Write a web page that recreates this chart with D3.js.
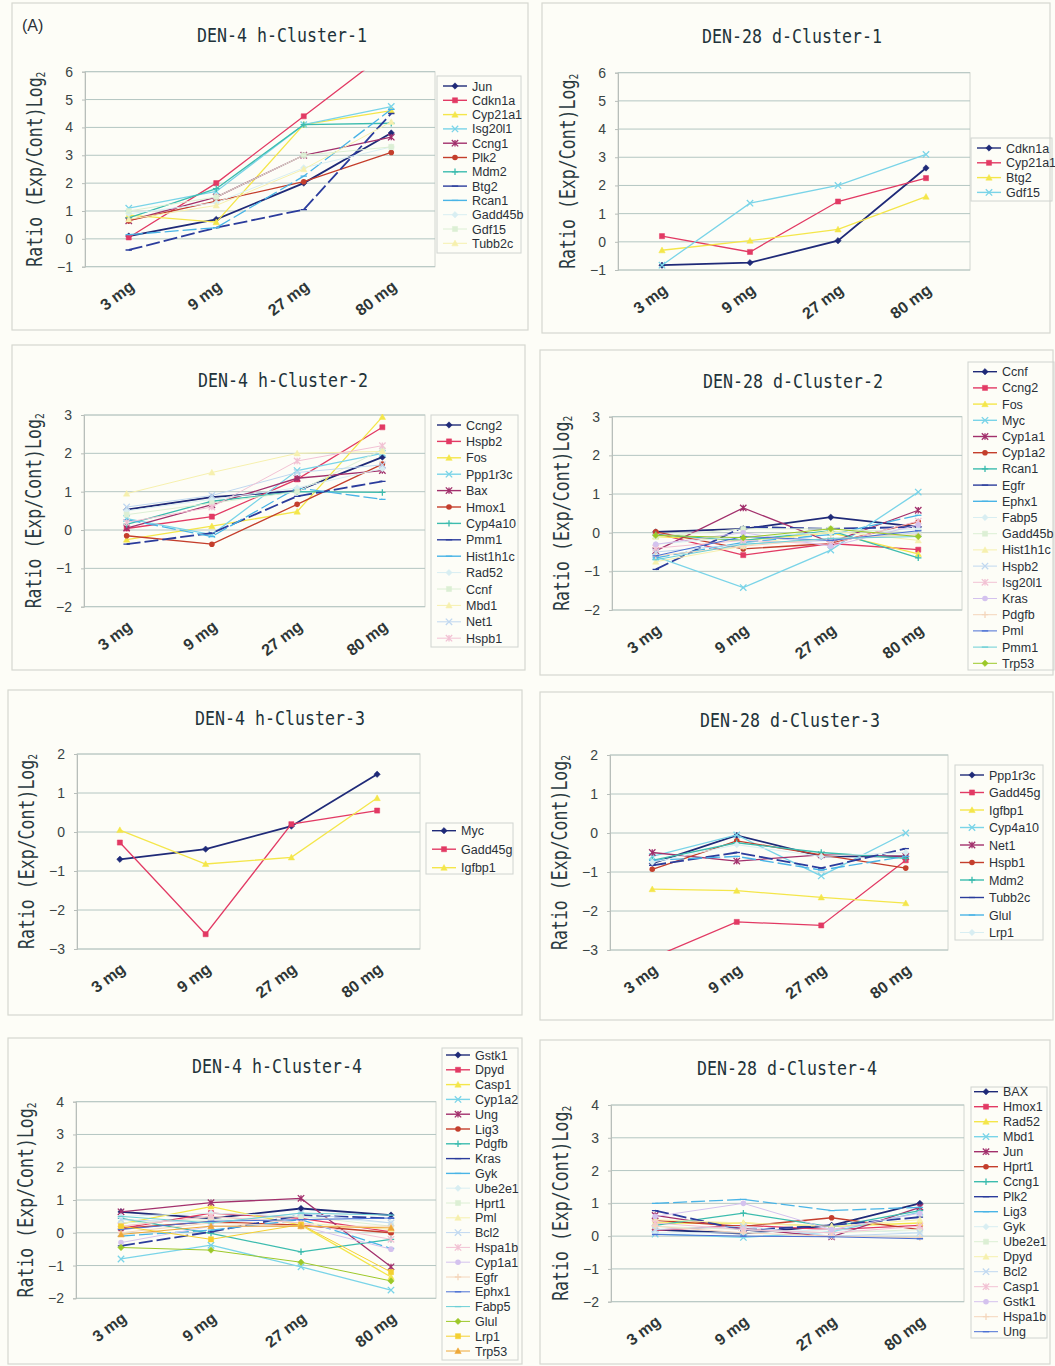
<!DOCTYPE html>
<html lang="en">
<head>
<meta charset="UTF-8">
<title>DEN dose clusters</title>
<script src="https://d3js.org/d3.v7.min.js"></script>
<style>
  body { margin: 0; background: #fdfdf7; }
  svg { display: block; }
  .title { font-family: "DejaVu Sans Mono", monospace; fill: #22333a; }
  .ylab { font-family: "DejaVu Sans Mono", monospace; fill: #2a3a40; }
  .tick text { font-family: "Liberation Sans", Arial, sans-serif; }
  .legend text { font-family: "Liberation Sans", Arial, sans-serif; font-size: 12.5px; fill: #2a3038; }
</style>
</head>
<body>
<svg id="chart" width="1055" height="1366"></svg>
<script>
const doses = ["3 mg", "9 mg", "27 mg", "80 mg"];

// DEN-4 h-Cluster-1
const h1Ticks = [-1, 0, 1, 2, 3, 4, 5, 6];
const h1Genes = ["Jun", "Cdkn1a", "Cyp21a1", "Isg20l1", "Ccng1", "Plk2", "Mdm2", "Btg2", "Rcan1", "Gadd45b", "Gdf15", "Tubb2c"];
const h1Values = [
  [0.1, 0.7, 2.0, 3.8],
  [0.05, 2.0, 4.4, 6.8],
  [0.85, 0.6, 4.1, 4.6],
  [1.1, 1.7, 4.1, 4.75],
  [0.65, 1.5, 3.0, 3.65],
  [0.65, 1.35, 2.05, 3.1],
  [0.75, 1.8, 4.1, 4.15],
  [-0.4, 0.4, 1.05, 4.5],
  [0.15, 0.4, 2.25, 4.65],
  [0.9, 1.3, 2.55, 3.3],
  [1.0, 1.5, 3.0, 3.3],
  [0.7, 1.2, 2.5, 4.2]
];

// DEN-28 d-Cluster-1
const d1Ticks = [-1, 0, 1, 2, 3, 4, 5, 6];
const d1Genes = ["Cdkn1a", "Cyp21a1", "Btg2", "Gdf15"];
const d1Values = [
  [-0.83, -0.74, 0.04, 2.62],
  [0.2, -0.36, 1.43, 2.26],
  [-0.3, 0.04, 0.44, 1.6],
  [-0.83, 1.37, 2.0, 3.1]
];

// DEN-4 h-Cluster-2
const h2Ticks = [-2, -1, 0, 1, 2, 3];
const h2Genes = ["Ccng2", "Hspb2", "Fos", "Ppp1r3c", "Bax", "Hmox1", "Cyp4a10", "Pmm1", "Hist1h1c", "Rad52", "Ccnf", "Mbd1", "Net1", "Hspb1"];
const h2Values = [
  [0.53, 0.86, 1.02, 1.9],
  [0.04, 0.35, 1.32, 2.68],
  [-0.25, 0.1, 0.48, 2.95],
  [0.3, -0.12, 1.55, 2.0],
  [0.05, 0.66, 1.35, 1.55],
  [-0.15, -0.37, 0.67, 1.72],
  [0.15, 0.75, 1.0, 0.98],
  [-0.37, -0.08, 0.88, 1.27],
  [0.27, -0.17, 1.1, 0.8],
  [0.5, 0.8, 1.1, 1.6],
  [0.4, 0.7, 1.0, 2.1],
  [0.95, 1.5, 2.0, 2.05],
  [0.6, 0.9, 1.5, 1.7],
  [0.2, 0.6, 1.8, 2.2]
];

// DEN-28 d-Cluster-2
const d2Ticks = [-2, -1, 0, 1, 2, 3];
const d2Genes = ["Ccnf", "Ccng2", "Fos", "Myc", "Cyp1a1", "Cyp1a2", "Rcan1", "Egfr", "Ephx1", "Fabp5", "Gadd45b", "Hist1h1c", "Hspb2", "Isg20l1", "Kras", "Pdgfb", "Pml", "Pmm1", "Trp53"];
const d2Values = [
  [0.02, 0.1, 0.4, 0.15],
  [-0.02, -0.58, -0.28, -0.44],
  [-0.1, -0.2, 0.0, -0.55],
  [-0.62, -1.42, -0.45, 1.05],
  [-0.47, 0.64, -0.25, 0.58],
  [0.02, -0.42, -0.28, 0.28],
  [-0.05, -0.2, 0.05, -0.65],
  [-0.95, 0.15, 0.1, 0.15],
  [-0.65, -0.25, -0.05, 0.45],
  [-0.3, -0.1, 0.0, 0.1],
  [-0.1, 0.1, 0.1, 0.0],
  [-0.75, -0.35, 0.05, -0.2],
  [-0.5, -0.3, -0.2, 0.0],
  [-0.4, -0.2, -0.3, 0.3],
  [-0.3, 0.0, -0.35, 0.2],
  [-0.6, -0.35, -0.15, -0.05],
  [-0.6, -0.1, -0.2, 0.05],
  [-0.7, -0.3, -0.15, -0.1],
  [-0.07, -0.13, 0.1, -0.1]
];

// DEN-4 h-Cluster-3
const h3Ticks = [-3, -2, -1, 0, 1, 2];
const h3Genes = ["Myc", "Gadd45g", "Igfbp1"];
const h3Values = [
  [-0.7, -0.44, 0.15, 1.48],
  [-0.27, -2.62, 0.2, 0.55],
  [0.05, -0.82, -0.65, 0.87]
];

// DEN-28 d-Cluster-3
const d3Ticks = [-3, -2, -1, 0, 1, 2];
const d3Genes = ["Ppp1r3c", "Gadd45g", "Igfbp1", "Cyp4a10", "Net1", "Hspb1", "Mdm2", "Tubb2c", "Glul", "Lrp1"];
const d3Values = [
  [-0.78, -0.06, -0.6, -0.6],
  [-3.2, -2.28, -2.37, -0.7],
  [-1.44, -1.48, -1.65, -1.8],
  [-0.6, -0.05, -1.1, 0.0],
  [-0.5, -0.72, -0.56, -0.6],
  [-0.93, -0.2, -0.56, -0.9],
  [-0.7, -0.25, -0.5, -0.65],
  [-0.83, -0.5, -0.9, -0.4],
  [-0.7, -0.6, -0.95, -0.6],
  [-0.75, -0.3, -0.6, -0.5]
];

// DEN-4 h-Cluster-4
const h4Ticks = [-2, -1, 0, 1, 2, 3, 4];
const h4Genes = ["Gstk1", "Dpyd", "Casp1", "Cyp1a2", "Ung", "Lig3", "Pdgfb", "Kras", "Gyk", "Ube2e1", "Hprt1", "Pml", "Bcl2", "Hspa1b", "Cyp1a1", "Egfr", "Ephx1", "Fabp5", "Glul", "Lrp1", "Trp53"];
const h4Values = [
  [0.64, 0.44, 0.74, 0.54],
  [0.13, 0.6, 0.44, 0.03],
  [0.27, 0.8, 0.23, -1.35],
  [-0.8, -0.38, -1.04, -1.75],
  [0.64, 0.92, 1.05, -1.04],
  [0.13, 0.34, 0.23, 0.0],
  [0.44, -0.02, -0.58, -0.2],
  [-0.4, 0.03, 0.54, 0.44],
  [-0.1, 0.08, 0.4, -0.48],
  [0.5, 0.6, 0.5, 0.3],
  [0.3, 0.4, 0.5, 0.2],
  [0.2, 0.5, 0.3, 0.1],
  [0.4, 0.3, 0.6, 0.3],
  [0.2, 0.5, 0.3, -0.2],
  [-0.3, 0.2, 0.2, -0.5],
  [0.0, 0.3, 0.2, 0.2],
  [0.1, 0.35, 0.4, 0.45],
  [0.5, 0.3, 0.6, 0.54],
  [-0.45, -0.53, -0.9, -1.47],
  [0.2, -0.2, 0.25, -1.2],
  [-0.05, 0.2, 0.2, 0.15]
];

// DEN-28 d-Cluster-4
const d4Ticks = [-2, -1, 0, 1, 2, 3, 4];
const d4Genes = ["BAX", "Hmox1", "Rad52", "Mbd1", "Jun", "Hprt1", "Ccng1", "Plk2", "Lig3", "Gyk", "Ube2e1", "Dpyd", "Bcl2", "Casp1", "Gstk1", "Hspa1b", "Ung"];
const d4Values = [
  [0.2, 0.08, 0.33, 1.0],
  [0.18, 0.33, 0.2, 0.33],
  [0.4, 0.4, 0.3, 0.4],
  [0.06, -0.04, 0.13, 0.73],
  [0.63, 0.23, -0.02, 0.88],
  [0.48, 0.3, 0.56, 0.2],
  [0.33, 0.7, 0.28, 0.78],
  [0.78, 0.18, 0.33, 0.58],
  [1.0, 1.12, 0.78, 0.88],
  [0.1, 0.1, 0.2, 0.1],
  [0.3, 0.2, 0.1, 0.2],
  [0.5, 0.4, 0.3, 0.5],
  [0.2, 0.3, 0.0, 0.1],
  [0.4, 0.2, 0.1, 0.3],
  [0.6, 1.0, 0.2, 0.7],
  [0.3, 0.1, 0.0, -0.05],
  [0.05, 0.0, -0.02, -0.08]
];

// series styling (scanned Excel palette)
const seriesColors = ["#1f2a78", "#e23a64", "#f4e64a", "#7ad4e8", "#a2306c", "#c43e2c", "#3cbcae", "#2b3c9c", "#49b4e6",
  "#d8eef2", "#dcefd4", "#f6f0ae", "#c0d8f0", "#f2c2d4", "#d4c2ee", "#f4d6bc", "#4a6fd4", "#6ccfd6", "#9cc828", "#f4d030", "#eea838"];
const markerTypes = ["diamond", "square", "triangle", "x", "star", "circle", "plus", "dash", "dash",
  "diamond", "square", "triangle", "x", "star", "circle", "plus", "dash", "dash", "diamond", "square", "triangle"];

// layout: frame box, plot [left, right, yOfMaxTick, yOfMinTick], title pos, legend
const panels = [
  { title: "DEN-4 h-Cluster-1", genes: h1Genes, values: h1Values, ticks: h1Ticks,
    frame: [12, 3, 528, 330], plot: [85, 435, 71.7, 266.7], tx: 282, ty: 42,
    leg: { x: 443, y: 86, step: 14.3, box: [437, 76, 521, 253] } },
  { title: "DEN-28 d-Cluster-1", genes: d1Genes, values: d1Values, ticks: d1Ticks,
    frame: [542, 3, 1050, 333], plot: [618, 970, 72.7, 270], tx: 792, ty: 43,
    leg: { x: 977, y: 148, step: 14.8, box: [971, 138, 1052, 201] } },
  { title: "DEN-4 h-Cluster-2", genes: h2Genes, values: h2Values, ticks: h2Ticks,
    frame: [12, 345, 525, 670], plot: [84, 425, 415, 606.7], tx: 283, ty: 387,
    leg: { x: 437, y: 425, step: 16.4, box: [431, 415, 518, 647] } },
  { title: "DEN-28 d-Cluster-2", genes: d2Genes, values: d2Values, ticks: d2Ticks,
    frame: [540, 350, 1053, 675], plot: [612, 962, 416.7, 610], tx: 793, ty: 388,
    leg: { x: 973, y: 371.7, step: 16.2, box: [968, 362, 1054, 670] } },
  { title: "DEN-4 h-Cluster-3", genes: h3Genes, values: h3Values, ticks: h3Ticks,
    frame: [8, 690, 522, 1015], plot: [77, 420, 754, 949], tx: 280, ty: 725,
    leg: { x: 432, y: 830.7, step: 18.5, box: [426, 823, 513, 874] } },
  { title: "DEN-28 d-Cluster-3", genes: d3Genes, values: d3Values, ticks: d3Ticks,
    frame: [540, 692, 1053, 1020], plot: [610, 948, 755, 950], tx: 790, ty: 727,
    leg: { x: 960, y: 775, step: 17.5, box: [955, 765, 1043, 940] } },
  { title: "DEN-4 h-Cluster-4", genes: h4Genes, values: h4Values, ticks: h4Ticks,
    frame: [8, 1038, 522, 1364], plot: [76, 436, 1101.7, 1298.3], tx: 277, ty: 1073,
    leg: { x: 446, y: 1055, step: 14.8, box: [442, 1048, 518, 1360] } },
  { title: "DEN-28 d-Cluster-4", genes: d4Genes, values: d4Values, ticks: d4Ticks,
    frame: [540, 1040, 1050, 1364], plot: [611, 964, 1105, 1301.7], tx: 787, ty: 1075,
    leg: { x: 974, y: 1091.7, step: 15, box: [971, 1087, 1047, 1338] } }
];

const svg = d3.select("#chart");

function markerPath(type, s) {
  switch (type) {
    case "diamond": return `M0,${-s}L${s},0L0,${s}L${-s},0Z`;
    case "square": return `M${-s * 0.8},${-s * 0.8}h${s * 1.6}v${s * 1.6}h${-s * 1.6}Z`;
    case "triangle": return `M0,${-s}L${s},${s * 0.8}L${-s},${s * 0.8}Z`;
    case "x": return `M${-s},${-s}L${s},${s}M${-s},${s}L${s},${-s}`;
    case "star": return `M${-s},${-s}L${s},${s}M${-s},${s}L${s},${-s}M0,${-s}L0,${s}`;
    case "plus": return `M${-s},0L${s},0M0,${-s}L0,${s}`;
    case "dash": return `M${-s},0L${s},0`;
  }
  return "";
}
const filled = t => t === "diamond" || t === "square" || t === "triangle" || t === "circle";

function drawMarker(g, type, color, cx, cy) {
  if (type === "circle") {
    g.append("circle").attr("cx", cx).attr("cy", cy).attr("r", 2.8).attr("fill", color);
  } else {
    g.append("path")
      .attr("transform", `translate(${cx},${cy})`)
      .attr("d", markerPath(type, 3.2))
      .attr("fill", filled(type) ? color : "none")
      .attr("stroke", color)
      .attr("stroke-width", filled(type) ? 0.5 : 1.3);
  }
}

// (A)
svg.append("text").attr("x", 22).attr("y", 31)
  .style("font-family", "Liberation Sans, Arial, sans-serif").style("font-size", "16px").style("fill", "#2a3038")
  .text("(A)");

panels.forEach((p, pi) => {
  const [left, right, top, bottom] = p.plot;
  const g = svg.append("g");

  // panel frame
  g.append("rect")
    .attr("x", p.frame[0]).attr("y", p.frame[1])
    .attr("width", p.frame[2] - p.frame[0]).attr("height", p.frame[3] - p.frame[1])
    .attr("fill", "none").attr("stroke", "#d6d8d0").attr("stroke-width", 1.2);

  const x = d3.scalePoint().domain(doses).range([left, right]).padding(0.5);
  const y = d3.scaleLinear().domain(d3.extent(p.ticks)).range([bottom, top]);

  // plot area + gridlines
  g.append("rect").attr("x", left).attr("y", top).attr("width", right - left).attr("height", bottom - top)
    .attr("fill", "none").attr("stroke", "#d2d6d0");
  g.append("g").selectAll("line").data(p.ticks).join("line")
    .attr("x1", left).attr("x2", right)
    .attr("y1", d => y(d)).attr("y2", d => y(d))
    .attr("stroke", "#b4c6c2").attr("stroke-width", 1);

  // y axis
  const ya = g.append("g").attr("transform", `translate(${left},0)`)
    .call(d3.axisLeft(y).tickValues(p.ticks).tickSize(3).tickPadding(9).tickFormat(d3.format("d")));
  ya.select(".domain").attr("stroke", "#b8beba");
  ya.selectAll(".tick line").attr("stroke", "#b8beba");
  ya.selectAll(".tick text").style("font-size", "14px").attr("fill", "#3a4444");

  // x axis labels (rotated)
  const xa = g.append("g").attr("transform", `translate(0,${bottom})`)
    .call(d3.axisBottom(x).tickSize(0));
  xa.select(".domain").remove();
  xa.selectAll(".tick text")
    .attr("x", 0).attr("y", 0).attr("dy", 0)
    .attr("text-anchor", "end")
    .attr("transform", "translate(6,22) rotate(-37)")
    .style("font-size", "16px").style("font-weight", "bold").attr("fill", "#2e3636");

  // title
  g.append("text").attr("class", "title")
    .attr("x", p.tx).attr("y", p.ty).attr("text-anchor", "middle")
    .attr("textLength", p.title.length * 10).attr("lengthAdjust", "spacingAndGlyphs")
    .style("font-size", "20px").text(p.title);

  // y axis title
  const yl = g.append("text").attr("class", "ylab")
    .attr("transform", `translate(${left - 43},${(top + bottom) / 2}) rotate(-90)`)
    .attr("text-anchor", "middle")
    .attr("textLength", 195).attr("lengthAdjust", "spacingAndGlyphs")
    .style("font-size", "21px");
  yl.append("tspan").text("Ratio (Exp/Cont)Log");
  yl.append("tspan").attr("dy", 3).style("font-size", "12px").text("2");

  // series
  const clipId = "clip" + pi;
  g.append("clipPath").attr("id", clipId).append("rect")
    .attr("x", left).attr("y", top - 1).attr("width", right - left).attr("height", bottom - top + 2);
  const line = d3.line().x((v, i) => x(doses[i])).y(v => y(v));
  const sg = g.append("g").attr("clip-path", `url(#${clipId})`);
  p.values.forEach((vals, si) => {
    const color = seriesColors[si];
    const strong = si < 9;
    sg.append("path").attr("d", line(vals)).attr("fill", "none")
      .attr("stroke", color)
      .attr("stroke-width", (si === 0 || si === 7) ? 1.8 : strong ? 1.3 : 1)
      .attr("stroke-dasharray", (si === 7 || si === 8) ? "14,4" : null);
    vals.forEach((v, i) => drawMarker(sg, markerTypes[si], color, x(doses[i]), y(v)));
  });

  // legend
  const lg = g.append("g").attr("class", "legend");
  const b = p.leg.box;
  lg.append("rect").attr("x", b[0]).attr("y", b[1]).attr("width", b[2] - b[0]).attr("height", b[3] - b[1])
    .attr("fill", "none").attr("stroke", "#d0d4d0");
  p.genes.forEach((name, si) => {
    const ly = p.leg.y + si * p.leg.step;
    const color = seriesColors[si];
    lg.append("line").attr("x1", p.leg.x).attr("x2", p.leg.x + 24).attr("y1", ly).attr("y2", ly)
      .attr("stroke", color).attr("stroke-width", si < 9 ? 1.4 : 1);
    drawMarker(lg, markerTypes[si], color, p.leg.x + 12, ly);
    lg.append("text").attr("x", p.leg.x + 29).attr("y", ly + 4.5).text(name);
  });
});
</script>
</body>
</html>
